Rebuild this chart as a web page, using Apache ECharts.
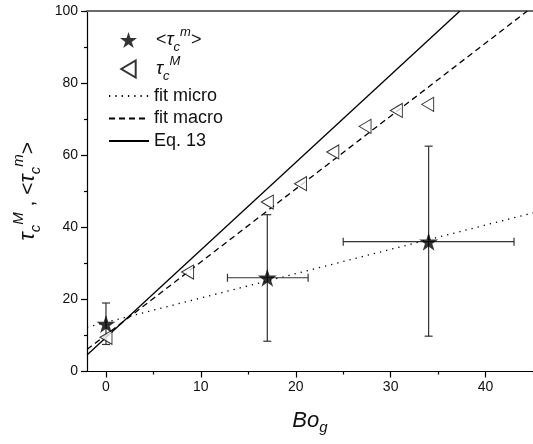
<!DOCTYPE html>
<html>
<head>
<meta charset="utf-8">
<script src="https://cdn.jsdelivr.net/npm/echarts@6/dist/echarts.min.js"></script>
<style>
  html, body { margin: 0; padding: 0; background: #fff; }
  #chart { width: 533px; height: 444px; }
</style>
</head>
<body>
<div id="chart"></div>
<script>
// <tau_c^m> (stars) with error bars
var starX = [0, 17, 34];
var starY = [13.2, 26, 36];
var starXLow = [0, 12.8, 25];
var starXHigh = [0, 21.3, 43];
var starYLow = [7.5, 8.4, 9.8];
var starYHigh = [19, 43.5, 62.5];

// tau_c^M (open triangles)
var triX = [0, 8.6, 17, 20.5, 23.9, 27.3, 30.6, 33.9];
var triY = [9.5, 27.6, 47, 52.1, 60.9, 68, 72.4, 74.1];

// straight lines, end points
var microFitX = [-2, 45];
var microFitY = [12.3, 44];
var macroFitX = [-2, 44.4];
var macroFitY = [6.1, 100];
var eq13X = [-2, 37.3];
var eq13Y = [4.6, 100];

// ticks
var xMajor = [0, 10, 20, 30, 40];
var xMinor = [5, 15, 25, 35, 45];
var yMajor = [0, 20, 40, 60, 80, 100];
var yMinor = [10, 30, 50, 70, 90];

function pairs(xs, ys) {
  return xs.map(function (x, i) { return [x, ys[i]]; });
}

var starPath = 'path://M50,0 L61.2,34.5 L97.6,34.5 L68.2,55.9 L79.4,90.5 L50,69.1 L20.6,90.5 L31.8,55.9 L2.4,34.5 L38.8,34.5 Z';
var leftTri = 'path://M11,0 L11,13 L0,6.5 Z';
var font = 'Liberation Sans, Arial, sans-serif';

function richSet(big, small, lh) {
  return {
    t: { fontFamily: font, fontStyle: 'italic', fontSize: big, lineHeight: lh, color: '#111' },
    p: { fontFamily: font, fontSize: big - 1, lineHeight: lh, color: '#111' },
    sub: { fontFamily: font, fontStyle: 'italic', fontSize: small, lineHeight: lh, verticalAlign: 'bottom', color: '#111' },
    sup: { fontFamily: font, fontStyle: 'italic', fontSize: small, lineHeight: lh, verticalAlign: 'top', color: '#111' }
  };
}

var legendLabels = {
  'tau micro': '{p|<}{t|τ}{sub|c}{sup|m}{p|>}',
  'tau macro': '{t|τ}{sub|c}{sup|M}',
  'fit micro': 'fit micro',
  'fit macro': 'fit macro',
  'Eq. 13': 'Eq. 13'
};

var errData = starX.map(function (x, i) {
  return [x, starY[i], starXLow[i], starXHigh[i], starYLow[i], starYHigh[i]];
});

function renderErr(params, api) {
  var x = api.value(0), y = api.value(1);
  var c = api.coord([x, y]);
  var lo = api.coord([x, api.value(4)]);
  var hi = api.coord([x, api.value(5)]);
  var cap = 4;
  var st = { stroke: '#333', lineWidth: 1.2 };
  var kids = [
    { type: 'line', shape: { x1: c[0], y1: lo[1], x2: c[0], y2: hi[1] }, style: st },
    { type: 'line', shape: { x1: c[0] - cap, y1: lo[1], x2: c[0] + cap, y2: lo[1] }, style: st },
    { type: 'line', shape: { x1: c[0] - cap, y1: hi[1], x2: c[0] + cap, y2: hi[1] }, style: st }
  ];
  if (api.value(3) > api.value(2)) {
    var l = api.coord([api.value(2), y]);
    var r = api.coord([api.value(3), y]);
    kids.push({ type: 'line', shape: { x1: l[0], y1: c[1], x2: r[0], y2: c[1] }, style: st });
    kids.push({ type: 'line', shape: { x1: l[0], y1: c[1] - cap, x2: l[0], y2: c[1] + cap }, style: st });
    kids.push({ type: 'line', shape: { x1: r[0], y1: c[1] - cap, x2: r[0], y2: c[1] + cap }, style: st });
  }
  return { type: 'group', children: kids };
}

var chart = echarts.init(document.getElementById('chart'));
var option = {
  backgroundColor: '#fff',
  animation: false,
  grid: { left: 87, right: -3, top: 11, bottom: 72.5 },
  legend: [
    {
      orient: 'vertical', left: 115, top: 21, itemWidth: 17, itemHeight: 17, itemGap: 1,
      data: ['tau micro', { name: 'tau macro', icon: leftTri }],
      formatter: function (n) { return legendLabels[n]; },
      textStyle: { fontFamily: font, fontSize: 18, color: '#111', padding: [0, 0, 0, 14], rich: richSet(19, 13, 28) },
      selectedMode: false
    },
    {
      orient: 'vertical', left: 103, top: 81, itemWidth: 40, itemHeight: 14, itemGap: 2.5,
      data: ['fit micro', 'fit macro', 'Eq. 13'],
      formatter: function (n) { return legendLabels[n]; },
      itemStyle: { opacity: 0 },
      textStyle: { fontFamily: font, fontSize: 18, lineHeight: 20, color: '#111' },
      selectedMode: false
    }
  ],
  xAxis: [
    {
      type: 'value', min: -2, max: 45, position: 'bottom',
      splitLine: { show: false },
      axisLine: { onZero: false, lineStyle: { color: '#000', width: 1.2 } },
      axisTick: { customValues: xMajor, length: 6, lineStyle: { color: '#000', width: 1.2 } },
      axisLabel: { customValues: xMajor, fontFamily: font, fontSize: 14, color: '#111', margin: 9 },
      name: '{t|Bo}{sub|g}', nameLocation: 'middle', nameGap: 34,
      nameTextStyle: {
        rich: {
          t: { fontFamily: font, fontStyle: 'italic', fontSize: 22, lineHeight: 30, color: '#111' },
          sub: { fontFamily: font, fontStyle: 'italic', fontSize: 15, lineHeight: 30, verticalAlign: 'bottom', color: '#111' }
        }
      }
    },
    {
      type: 'value', min: -2, max: 45, position: 'bottom',
      splitLine: { show: false },
      axisLine: { show: false, onZero: false },
      axisTick: { customValues: xMinor, length: 3, lineStyle: { color: '#000', width: 1.2 } },
      axisLabel: { show: false }
    },
    {
      type: 'value', min: -2, max: 45, position: 'top',
      splitLine: { show: false },
      axisLine: { onZero: false, lineStyle: { color: '#6a6a6a', width: 2 } },
      axisTick: { show: false },
      axisLabel: { show: false }
    }
  ],
  yAxis: [
    {
      type: 'value', min: 0, max: 100, position: 'left',
      splitLine: { show: false },
      axisLine: { show: true, onZero: false, lineStyle: { color: '#000', width: 1.2 } },
      axisTick: { customValues: yMajor, length: 6, lineStyle: { color: '#000', width: 1.2 } },
      axisLabel: { customValues: yMajor, fontFamily: font, fontSize: 14, color: '#111', margin: 9 },
      name: '{t|τ}{sub|c}{sup|M}{p| , <}{t|τ}{sub|c}{sup|m}{p|>}',
      nameLocation: 'middle', nameRotate: 90, nameGap: 42,
      nameTextStyle: { rich: richSet(22, 15, 32) }
    },
    {
      type: 'value', min: 0, max: 100, position: 'left',
      splitLine: { show: false },
      axisLine: { show: false, onZero: false },
      axisTick: { customValues: yMinor, length: 3, lineStyle: { color: '#000', width: 1.2 } },
      axisLabel: { show: false }
    }
  ],
  series: [
    {
      name: 'fit micro', type: 'line', data: pairs(microFitX, microFitY),
      showSymbol: false, symbol: 'none', z: 2,
      lineStyle: { color: '#000', width: 1.3, type: [1.3, 5] },
      itemStyle: { color: '#000' }
    },
    {
      name: 'fit macro', type: 'line', data: pairs(macroFitX, macroFitY),
      showSymbol: false, symbol: 'none', z: 2,
      lineStyle: { color: '#000', width: 1.3, type: [6, 4] },
      itemStyle: { color: '#000' }
    },
    {
      name: 'Eq. 13', type: 'line', data: pairs(eq13X, eq13Y),
      showSymbol: false, symbol: 'none', z: 2,
      lineStyle: { color: '#000', width: 1.3, type: 'solid' },
      itemStyle: { color: '#000' }
    },
    {
      name: 'errors', type: 'custom', data: errData, renderItem: renderErr, z: 3,
      encode: { x: [0, 2, 3], y: [1, 4, 5] }
    },
    {
      name: 'tau macro', type: 'scatter', data: pairs(triX, triY), z: 4,
      symbol: 'triangle', symbolSize: [14, 12], symbolRotate: 90,
      itemStyle: { color: '#fff', borderColor: '#000', borderWidth: 1 }
    },
    {
      name: 'tau micro', type: 'scatter', data: pairs(starX, starY), z: 5,
      symbol: starPath, symbolSize: 19, symbolKeepAspect: true,
      itemStyle: { color: '#000' }
    }
  ]
};
chart.setOption(option);
</script>
</body>
</html>
